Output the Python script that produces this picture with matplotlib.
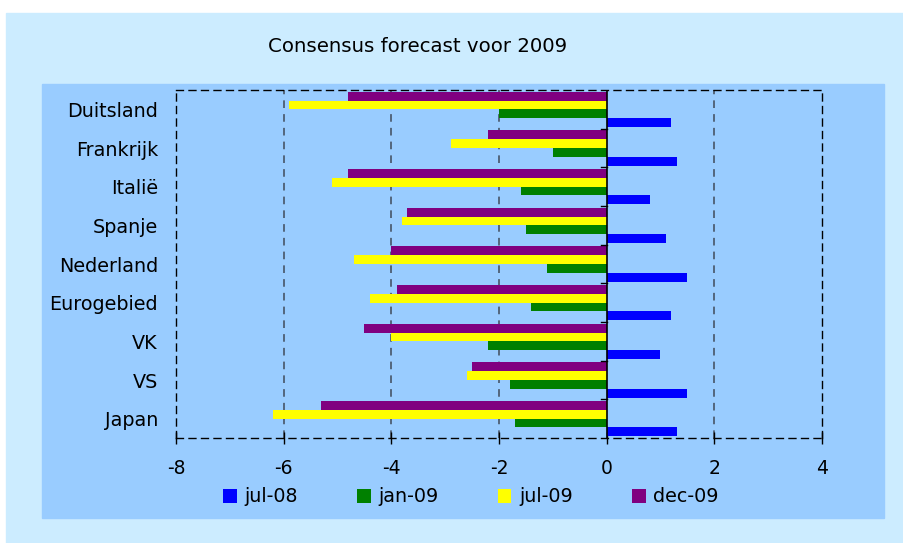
import numpy as np
import matplotlib
matplotlib.use("Agg")
import matplotlib.pyplot as plt
from matplotlib.patches import Rectangle

# ---------- data ----------
landen = ["Duitsland", "Frankrijk", "Italië", "Spanje", "Nederland",
          "Eurogebied", "VK", "VS", "Japan"]
jul_08 = [1.2, 1.3, 0.8, 1.1, 1.5, 1.2, 1.0, 1.5, 1.3]
jan_09 = [-2.0, -1.0, -1.6, -1.5, -1.1, -1.4, -2.2, -1.8, -1.7]
jul_09 = [-5.9, -2.9, -5.1, -3.8, -4.7, -4.4, -4.0, -2.6, -6.2]
dec_09 = [-4.8, -2.2, -4.8, -3.7, -4.0, -3.9, -4.5, -2.5, -5.3]
x_ticks = [-8, -6, -4, -2, 0, 2, 4]

# bottom-to-top order within each group: blue, green, yellow, purple
series = [("jul-08", jul_08, "#0000FF"),
          ("jan-09", jan_09, "#008000"),
          ("jul-09", jul_09, "#FFFF00"),
          ("dec-09", dec_09, "#800080")]

W, H = 904, 543
fig = plt.figure(figsize=(W / 100, H / 100), dpi=100, facecolor="white")

# backgrounds (outer light blue, inner panel)
fig.patches.append(Rectangle((6 / W, 0), 1 - 6 / W, 1 - 13 / H,
                             transform=fig.transFigure, color="#CCECFF", zorder=-2))
fig.patches.append(Rectangle((42 / W, 1 - 518 / H), (884 - 42) / W, (518 - 84) / H,
                             transform=fig.transFigure, color="#99CCFF", zorder=-1))

ax = fig.add_axes([176 / W, 1 - 438 / H, (822 - 176) / W, (438 - 90) / H])
ax.set_facecolor("#99CCFF")

y = np.arange(len(landen))
h = 0.227
offsets = [1.5, 0.5, -0.5, -1.5]
for (name, vals, col), off in zip(series, offsets):
    ax.barh(y + off * h, vals, height=h, color=col, label=name, zorder=3)

ax.set_xlim(-8, 4)
ax.set_ylim(len(landen) - 0.5, -0.5)

# grid
for xv in x_ticks[1:-1]:
    if xv != 0:
        ax.axvline(xv, color="#404a5a", lw=1.1, ls=(0, (5, 4)), zorder=1)
ax.axvline(0, color="black", lw=1.2, zorder=4)
# small ticks on the zero line between categories
for b in y[:-1] + 0.5:
    ax.plot([-0.1, 0], [b, b], color="black", lw=1, zorder=4)

for side in ["left", "top", "right", "bottom"]:
    ax.spines[side].set_linestyle((0, (5, 4)))
    ax.spines[side].set_color("black")
    ax.spines[side].set_linewidth(1)

ax.set_xticks(x_ticks)
ax.set_xticklabels([str(v) for v in x_ticks])
ax.tick_params(axis="x", direction="inout", length=8, width=1, labelsize=13.5, pad=11)
ax.set_yticks(y)
ax.set_yticklabels(landen)
ax.tick_params(axis="y", length=0, labelsize=13.8, pad=13)

fig.text(418 / W, 1 - 47 / H, "Consensus forecast voor 2009", ha="center", va="center",
         fontsize=14.2)

fig.legend(loc="center", bbox_to_anchor=(471 / W, 1 - 497 / H), ncol=4, frameon=False,
           fontsize=13.8, handlelength=0.7, handleheight=0.7, handletextpad=0.4,
           columnspacing=3.1)

fig.savefig("out.png", dpi=100, facecolor=fig.get_facecolor())
